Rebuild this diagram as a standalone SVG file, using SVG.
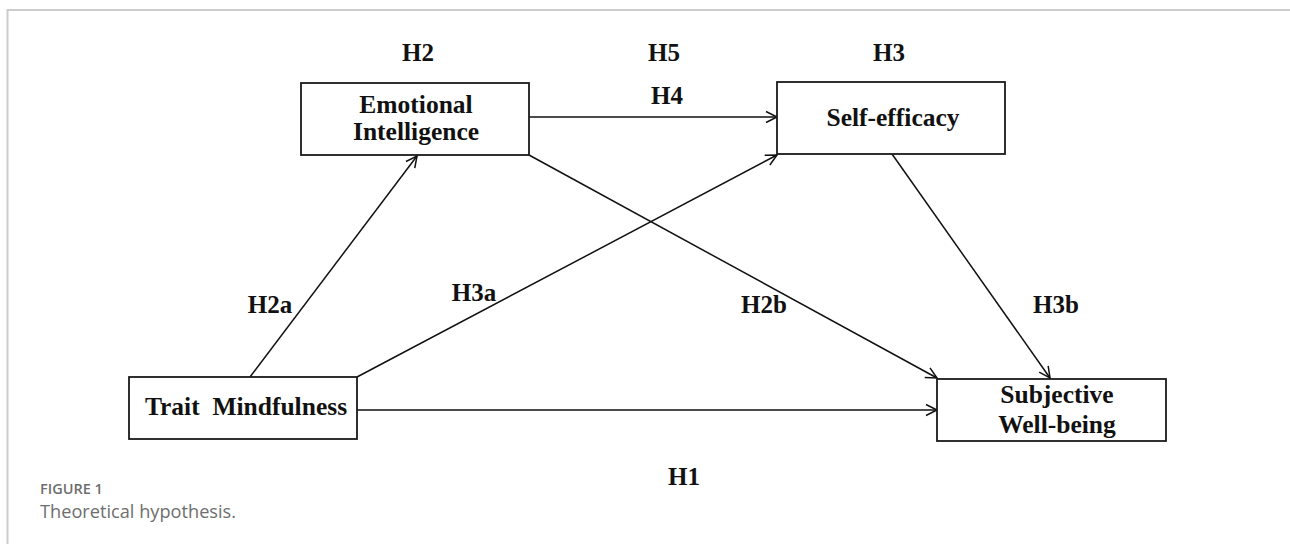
<svg xmlns="http://www.w3.org/2000/svg" width="1290" height="544" viewBox="0 0 1290 544">
<style>
.box{fill:#fff;stroke:#1a1a1a;stroke-width:1.8}
.t{font-family:"Liberation Serif","Times New Roman",serif;font-weight:bold;font-size:25.5px;fill:#111;text-anchor:middle}
.lab{font-family:"Liberation Serif","Times New Roman",serif;font-weight:bold;font-size:25px;fill:#111;text-anchor:middle}
.c{fill:none;stroke:#111;stroke-width:1.5}
.frame{fill:none;stroke:#cccccc;stroke-width:2}
</style>
<defs>
<marker id="ah" markerWidth="16" markerHeight="16" refX="14" refY="8" orient="auto" markerUnits="userSpaceOnUse">
<path d="M3,2.5 L14,8 L3,13.5" fill="none" stroke="#111" stroke-width="1.5"/>
</marker>
</defs>
<rect width="1290" height="544" fill="#fff"/>
<path class="frame" d="M7.5,544 L7.5,10 L1290,10"/>
<g id="connectors">
<line class="c" x1="250" y1="377" x2="417" y2="156" marker-end="url(#ah)"/>
<line class="c" x1="357" y1="377" x2="777" y2="155" marker-end="url(#ah)"/>
<line class="c" x1="529" y1="155" x2="937" y2="378" marker-end="url(#ah)"/>
<line class="c" x1="892" y1="154" x2="1050" y2="378" marker-end="url(#ah)"/>
<line class="c" x1="357" y1="410" x2="937" y2="410" marker-end="url(#ah)"/>
<line class="c" x1="529" y1="117" x2="777" y2="117" marker-end="url(#ah)"/>
</g>
<g id="labels">
<text class="lab" x="418" y="61">H2</text>
<text class="lab" x="664" y="61">H5</text>
<text class="lab" x="889" y="61">H3</text>
<text class="lab" x="667" y="104">H4</text>
<text class="lab" x="270" y="313">H2a</text>
<text class="lab" x="474" y="301">H3a</text>
<text class="lab" x="764" y="313">H2b</text>
<text class="lab" x="1056" y="313">H3b</text>
<text class="lab" x="684" y="485">H1</text>
</g>
<g id="emotional-intelligence">
<rect class="box" x="301" y="83" width="228" height="72"/>
<text class="t" x="416" y="113">Emotional</text>
<text class="t" x="416" y="140">Intelligence</text>
</g>
<g id="self-efficacy">
<rect class="box" x="777" y="82" width="228" height="72"/>
<text class="t" x="893" y="126">Self-efficacy</text>
</g>
<g id="trait-mindfulness">
<rect class="box" x="129" y="377" width="228" height="62"/>
<text class="t" x="246" y="415" xml:space="preserve">Trait  Mindfulness</text>
</g>
<g id="subjective-well-being">
<rect class="box" x="937" y="379" width="229" height="62"/>
<text class="t" x="1057" y="403">Subjective</text>
<text class="t" x="1057" y="433">Well-being</text>
</g>
<g id="caption">
<text x="40" y="494" font-family="'Open Sans',sans-serif" font-weight="600" font-size="14.5" fill="#6e6e6e">FIGURE 1</text>
<text x="40" y="518" font-family="'Open Sans',sans-serif" font-size="18.2" fill="#6e6e6e">Theoretical hypothesis.</text>
</g>
</svg>
